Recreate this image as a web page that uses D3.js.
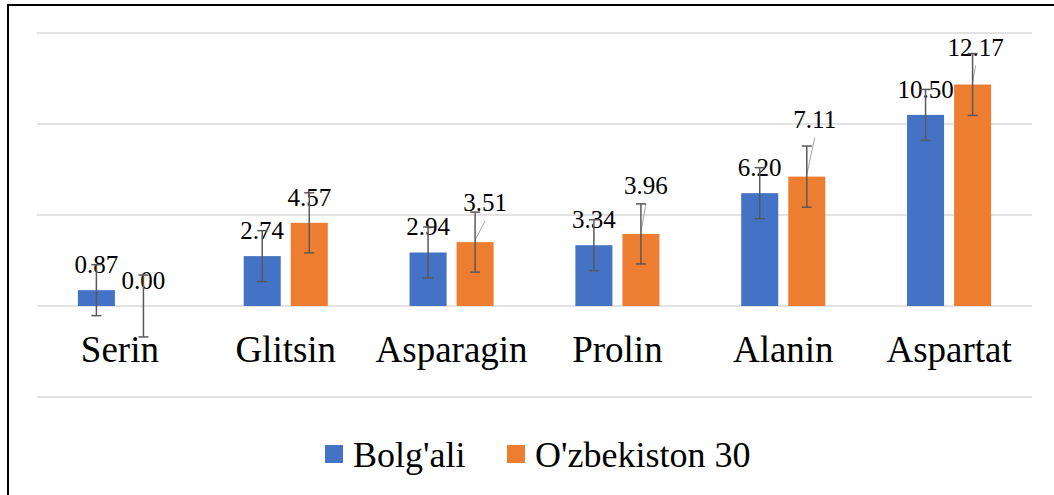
<!DOCTYPE html>
<html>
<head>
<meta charset="utf-8">
<script src="https://cdn.jsdelivr.net/npm/d3@7"></script>
<style>
  body { margin: 0; background: #fff; }
  .grid line { stroke: #d9d9d9; stroke-width: 1.5; }
  .err { stroke: #595959; stroke-width: 1.5; }
  .leader { stroke: #a6a6a6; stroke-width: 1; }
</style>
</head>
<body>
<svg class="amino-chart" width="1054" height="495" font-family="Liberation Serif, Tinos, Times New Roman, DejaVu Serif, serif"></svg>
<script>
// data
var categories = ['Serin', 'Glitsin', 'Asparagin', 'Prolin', 'Alanin', 'Aspartat'];
var seriesNames = ["Bolg'ali", "O'zbekiston 30"];
var bolgali = [0.87, 2.74, 2.94, 3.34, 6.20, 10.50];
var uzb30 = [0.00, 4.57, 3.51, 3.96, 7.11, 12.17];
var bolgaliErr = [1.4, 1.4, 1.4, 1.4, 1.4, 1.4];
var uzb30Err = [1.7, 1.65, 1.65, 1.65, 1.68, 1.7];
var yTicks = [-5, 0, 5, 10, 15];

var colors = ['#4472c4', '#ed7d31'];
var serif = 'Liberation Serif, Tinos, Times New Roman, DejaVu Serif, serif';

// labels Excel pushed away from the bar (with leader lines), in px
var labelNudge = {
  "O'zbekiston 30": { Asparagin: [10, -14], Prolin: [5, -23], Alanin: [8, -32], Aspartat: [3, -12] }
};

var svg = d3.select('.amino-chart');
var plot = { left: 37, right: 1032 };

// frame of the chart area (right and bottom edges fall outside the picture)
svg.append('path')
  .attr('d', 'M8,500 L8,5 L1060,5')
  .attr('fill', 'none')
  .attr('stroke', '#000')
  .attr('stroke-width', 2);

var yScale = d3.scaleLinear()
  .domain([yTicks[0], yTicks[yTicks.length - 1]])
  .range([397, 33]);

var x0 = d3.scaleBand()
  .domain(categories)
  .range([plot.left, plot.right])
  .paddingInner(0.493)
  .paddingOuter(0.2465);

var x1 = d3.scaleBand()
  .domain(seriesNames)
  .range([0, x0.bandwidth()])
  .paddingInner(0.213);

// gridlines
svg.append('g')
  .attr('class', 'grid')
  .selectAll('line')
  .data(yTicks)
  .enter().append('line')
    .attr('x1', plot.left)
    .attr('x2', plot.right)
    .attr('y1', function(d) { return yScale(d); })
    .attr('y2', function(d) { return yScale(d); });

// category labels
var x_axis = d3.axisBottom(x0).tickSize(0);
var gx = svg.append('g')
  .attr('transform', 'translate(0,362)')
  .call(x_axis)
  .attr('font-family', serif)
  .attr('font-size', 37);
gx.select('.domain').remove();
gx.selectAll('text')
  .attr('y', 0)
  .attr('dy', 0)
  .attr('fill', '#000');

var rows = [];
categories.forEach(function(c, i) {
  rows.push({ cat: c, series: seriesNames[0], value: bolgali[i], err: bolgaliErr[i], color: colors[0] });
  rows.push({ cat: c, series: seriesNames[1], value: uzb30[i], err: uzb30Err[i], color: colors[1] });
});

var cx = function(d) { return x0(d.cat) + x1(d.series) + x1.bandwidth() / 2; };

// bars
svg.append('g').selectAll('rect')
  .data(rows)
  .enter().append('rect')
    .attr('x', function(d) { return x0(d.cat) + x1(d.series); })
    .attr('width', x1.bandwidth())
    .attr('y', function(d) { return yScale(Math.max(0, d.value)); })
    .attr('height', function(d) { return Math.abs(yScale(d.value) - yScale(0)); })
    .attr('fill', function(d) { return d.color; });

var nudge = function(d) {
  var n = labelNudge[d.series] && labelNudge[d.series][d.cat];
  return n || null;
};

// leader lines for moved labels
svg.append('g').selectAll('line')
  .data(rows.filter(function(d) { return nudge(d); }))
  .enter().append('line')
    .attr('class', 'leader')
    .attr('x1', function(d) { return cx(d) + nudge(d)[0]; })
    .attr('y1', function(d) { return yScale(d.value) - 17 + nudge(d)[1] + 10; })
    .attr('x2', cx)
    .attr('y2', function(d) { return yScale(d.value) - 2; });

// data labels
svg.append('g')
  .attr('font-family', serif)
  .attr('font-size', 25)
  .selectAll('text')
  .data(rows)
  .enter().append('text')
    .attr('x', function(d) { var n = nudge(d); return cx(d) + (n ? n[0] : 0); })
    .attr('y', function(d) { var n = nudge(d); return yScale(d.value) - 17 + (n ? n[1] : 0); })
    .attr('text-anchor', 'middle')
    .attr('fill', '#000')
    .text(function(d) { return d.value.toFixed(2); });

// error bars
var eg = svg.append('g').selectAll('g')
  .data(rows)
  .enter().append('g')
    .attr('class', 'err');
eg.append('line')
  .attr('x1', cx).attr('x2', cx)
  .attr('y1', function(d) { return yScale(d.value + d.err); })
  .attr('y2', function(d) { return yScale(d.value - d.err); });
[1, -1].forEach(function(s) {
  eg.append('line')
    .attr('x1', function(d) { return cx(d) - 5; })
    .attr('x2', function(d) { return cx(d) + 5; })
    .attr('y1', function(d) { return yScale(d.value + s * d.err); })
    .attr('y2', function(d) { return yScale(d.value + s * d.err); });
});

// legend
var legend = svg.append('g')
  .attr('font-family', serif)
  .attr('font-size', 36);
var legendX = [325, 507];
seriesNames.forEach(function(name, i) {
  legend.append('rect')
    .attr('x', legendX[i])
    .attr('y', 445)
    .attr('width', 18)
    .attr('height', 18)
    .attr('fill', colors[i]);
  legend.append('text')
    .attr('x', legendX[i] + 28)
    .attr('y', 467)
    .attr('fill', '#000')
    .text(name);
});
</script>
</body>
</html>
